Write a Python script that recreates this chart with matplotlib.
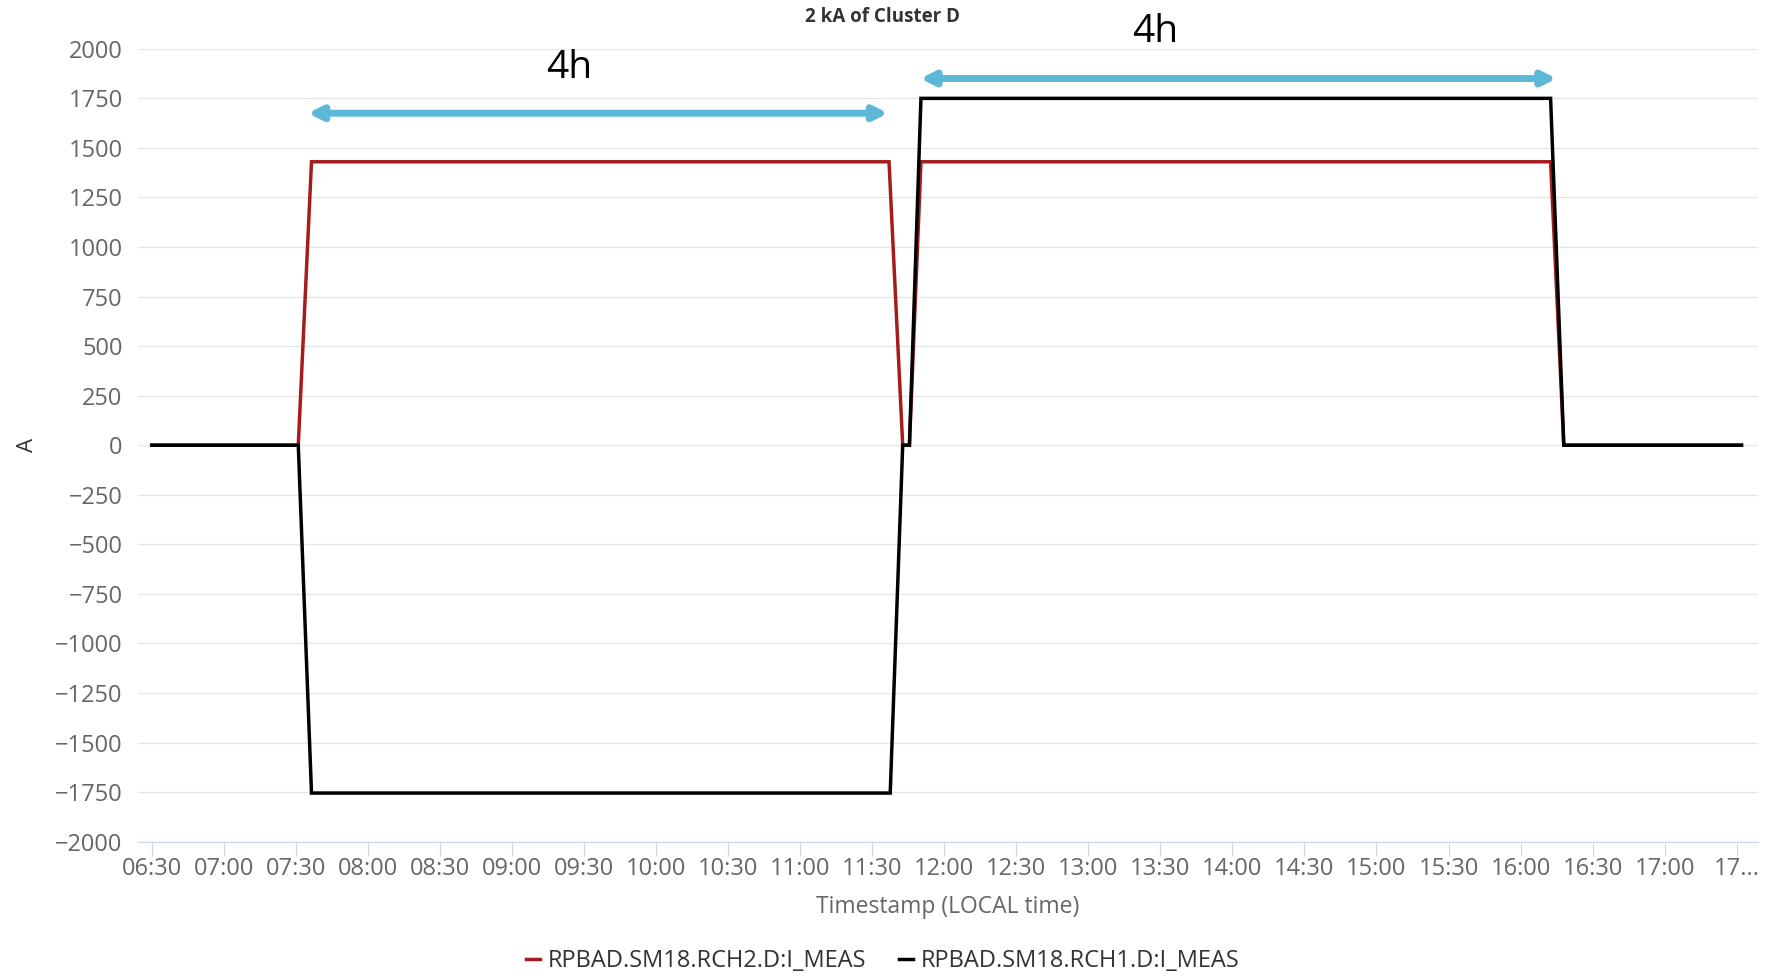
import pandas as pd
import numpy as np
import matplotlib.pyplot as plt
import matplotlib.patheffects as pe

# Data
day = '2018-01-01 '
black_times = ['06:30', '07:31', '07:36.5', '11:37.5', '11:42.7', '11:45.5',
               '11:50.3', '16:12.5', '16:18', '17:32']
black_values = [0, 0, -1755, -1755, 0, 0, 1750, 1750, 0, 0]
red_times = ['06:30', '07:31', '07:36.5', '11:37', '11:42.7', '11:45.5',
             '11:50.3', '16:12.5', '16:18', '17:32']
red_values = [0, 0, 1430, 1430, 0, 0, 1430, 1430, 0, 0]

tick_times = pd.date_range(day + '06:30', day + '17:30', freq='30min')
tick_labels = [t.strftime('%H:%M') for t in tick_times[:-1]] + ['17...']
y_ticks = list(range(-2000, 2001, 250))

arrows = [('07:35', '11:36.6', 1675, '4h', '09:24', 1905),
          ('11:50', '16:15', 1850, '4h', '13:28', 2085)]


def to_time(s):
    h, m = s.split(':')
    return pd.Timestamp(day + h + ':00') + pd.Timedelta(minutes=float(m))


plt.rcParams['font.family'] = ['Open Sans', 'DejaVu Sans']

fig = plt.figure(figsize=(17.76, 9.76), dpi=100)
ax = fig.add_axes([0.0777, 0.1377, 0.9122, 0.8123])

red_x = [to_time(t) for t in red_times]
black_x = [to_time(t) for t in black_times]
ax.plot(red_x, red_values, color='#a51c1c', lw=2.5, label='RPBAD.SM18.RCH2.D:I_MEAS',
        solid_joinstyle='miter')
ax.plot(black_x, black_values, color='#000000', lw=2.5, label='RPBAD.SM18.RCH1.D:I_MEAS',
        solid_joinstyle='miter')

# duration arrows
for start, end, yv, txt, tx, ty in arrows:
    ax.annotate('', xy=(to_time(end), yv), xytext=(to_time(start), yv),
                arrowprops=dict(arrowstyle='<|-|>,head_length=0.8,head_width=0.4',
                                color='#5db8d8', lw=5, shrinkA=0, shrinkB=0,
                                path_effects=[pe.SimplePatchShadow(offset=(1.5, -2), alpha=0.25),
                                              pe.Normal()]))
    ax.text(to_time(tx), ty, txt, ha='center', va='center', fontsize=28,
            color='black', clip_on=False)

ax.set_ylim(-2000, 2000)
ax.set_yticks(y_ticks)
ax.set_yticklabels([str(v).replace('-', '\u2212') for v in y_ticks])
ax.set_xlim(to_time('06:24.25'), to_time('17:38.9'))
ax.set_xticks(tick_times)
ax.set_xticklabels(tick_labels)

ax.grid(axis='y', color='#e6e6e6', lw=1)
ax.set_axisbelow(True)
for s in ['top', 'right', 'left']:
    ax.spines[s].set_visible(False)
ax.spines['bottom'].set_color('#ccd6eb')
ax.spines['bottom'].set_zorder(0)
ax.tick_params(axis='y', length=0, labelsize=17, labelcolor='#666666', pad=11)
ax.tick_params(axis='x', length=10, color='#ccd6eb', labelsize=17,
               labelcolor='#666666', pad=1)

fig.text(0.497, 0.983, '2 kA of Cluster D', fontsize=13.5, color='#333333',
         fontweight='bold', ha='center', va='center')
ax.set_xlabel('Timestamp (LOCAL time)', fontsize=16.5, color='#666666', labelpad=10)
ax.set_ylabel('A', fontsize=16, color='#333333', labelpad=12)

fig.legend(loc='lower center', bbox_to_anchor=(0.497, -0.019), ncol=2, frameon=False,
           handlelength=0.6, handletextpad=0.3, columnspacing=1.4, fontsize=17,
           labelcolor='#333333')

fig.savefig('out.png', dpi=100)
